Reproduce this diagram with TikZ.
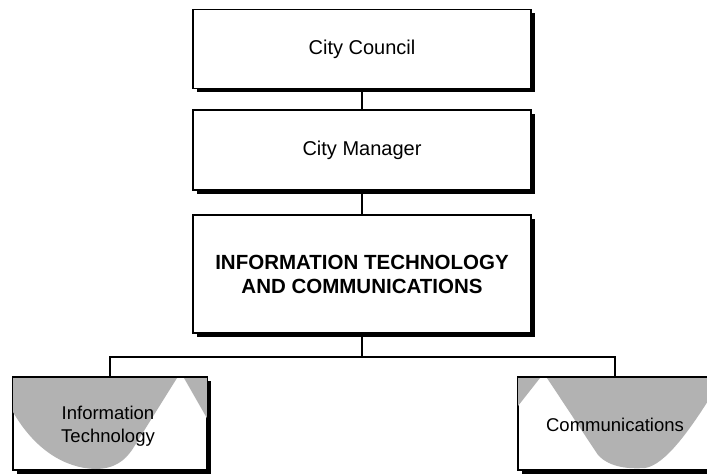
\documentclass[tikz,border=0pt]{standalone}
\usepackage{fontspec}
\setmainfont{Liberation Sans}
\usetikzlibrary{shadows}
\definecolor{halftone}{gray}{0.70}
\tikzset{
  orgbox/.style={draw=black, line width=1.4pt, fill=white, inner sep=0pt,
    drop shadow={shadow xshift=3.5pt, shadow yshift=-3.5pt, fill=black, opacity=1}},
  topbox/.style={orgbox, minimum width=338pt, minimum height=79pt},
  subbox/.style={orgbox, minimum width=194pt, minimum height=93pt},
  txt/.style={font=\fontsize{20}{24}\selectfont, text=black, align=center},
  subtxt/.style={font=\fontsize{18.5}{23}\selectfont, text=black, align=center},
  bigtxt/.style={font=\fontsize{20.5}{24}\selectfont\bfseries, text=black, align=center},
  wire/.style={draw=black, line width=1.3pt},
  shade/.style={fill=halftone, draw=none}
}
\begin{document}
\begin{tikzpicture}[x=1pt,y=-1pt]
\useasboundingbox (0,0) rectangle (707,474);
% top boxes
\node[topbox, txt] (council) at (362,49) {City Council};
\node[topbox, txt, minimum height=80pt] (manager) at (362,150) {City Manager};
\node[topbox, bigtxt, minimum height=118pt] (itc) at (362,274) {INFORMATION TECHNOLOGY\\AND COMMUNICATIONS};
% bottom boxes
\node[subbox] (lbox) at (110,423.5) {};
\node[subbox] (rbox) at (615,423.5) {};
% halftone shapes
\begin{scope}
\clip (lbox.north west) rectangle (lbox.south east);
\path[shade] (13,378) -- (13,412) .. controls (35,450) and (65,468) .. (95,469)
  .. controls (115,469) and (125,460) .. (132,450) -- (177,378) -- cycle;
\path[shade] (184,378) -- (208,420) -- (208,378) -- cycle;
\end{scope}
\begin{scope}
\clip (rbox.north west) rectangle (rbox.south east);
\path[shade] (518,378) -- (518,406) -- (540,378) -- cycle;
\path[shade] (547,378) -- (598,455) .. controls (610,468) and (630,469) .. (645,468)
  .. controls (665,465) and (690,430) .. (713,393) -- (713,378) -- cycle;
\end{scope}
\draw[line width=1.4pt] (lbox.north west) rectangle (lbox.south east);
\draw[line width=1.4pt] (rbox.north west) rectangle (rbox.south east);
\node[subtxt] (ltext) at (108,426) {Information\\Technology};
\node[subtxt] (rtext) at (615,425) {Communications};
% connectors
\draw[wire] (council.south) -- (manager.north);
\draw[wire] (manager.south) -- (itc.north);
\coordinate (bus) at (362,357);
\draw[wire] (itc.south) -- (bus);
\draw[wire] (lbox.north) |- (bus) -| (rbox.north);
\end{tikzpicture}
\end{document}
